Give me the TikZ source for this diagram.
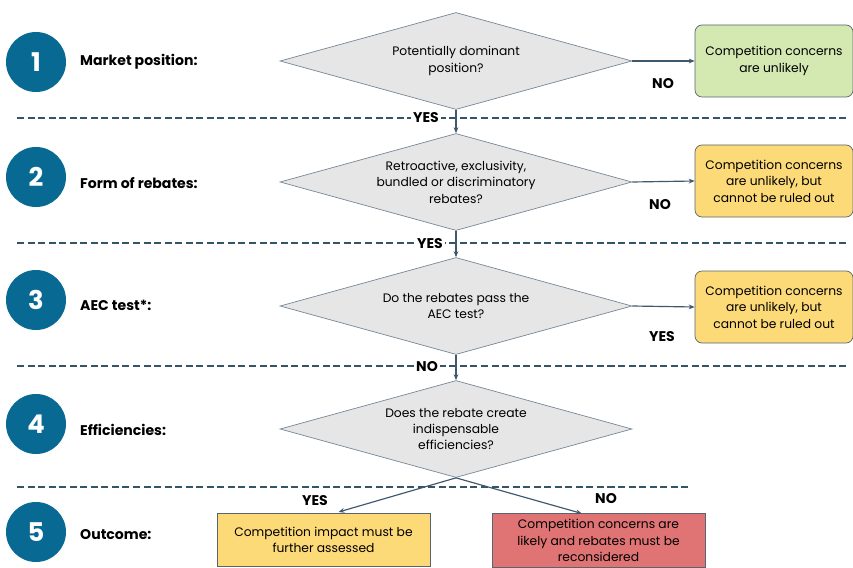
\documentclass[tikz,border=0pt]{standalone}
\usepackage{fontspec}
\setmainfont{Poppins}
\usetikzlibrary{arrows.meta, shapes.geometric, positioning}
\definecolor{stepblue}{RGB}{8, 106, 146}
\definecolor{dashslate}{RGB}{52, 84, 104}
\definecolor{arrowslate}{RGB}{64, 88, 108}
\definecolor{diamfill}{RGB}{230, 230, 230}
\definecolor{diamdraw}{RGB}{120, 135, 150}
\definecolor{boxdraw}{RGB}{90, 100, 110}
\definecolor{okgreen}{RGB}{212, 232, 178}
\definecolor{warnyellow}{RGB}{253, 218, 120}
\definecolor{alertred}{RGB}{224, 115, 115}

\begin{document}
\begin{tikzpicture}[x=0.03cm, y=-0.03cm,
    numcirc/.style={circle, fill=stepblue, minimum size=1.8cm, inner sep=0pt,
      text=white, font=\fontsize{22}{24}\selectfont\bfseries},
    steplabel/.style={anchor=west, inner sep=0pt, font=\fontsize{12}{14}\selectfont\bfseries},
    question/.style={diamond, aspect=3.63, draw=diamdraw, fill=diamfill, line width=0.6pt,
      minimum width=10.56cm, minimum height=2.91cm, inner sep=0pt, align=center,
      font=\fontsize{10.5}{14}\selectfont},
    verdict/.style={draw=boxdraw, line width=0.6pt, rounded corners=6pt,
      minimum width=4.74cm, minimum height=2.16cm, inner sep=0pt, align=center,
      font=\fontsize{10.5}{14}\selectfont},
    outcome/.style={draw=boxdraw, line width=0.6pt, minimum width=6.39cm,
      minimum height=1.6cm, inner sep=0pt, align=center, font=\fontsize{10.5}{14}\selectfont},
    answer/.style={inner sep=1.5pt, font=\fontsize{12}{14}\selectfont\bfseries},
    flow/.style={draw=arrowslate, line width=1pt, -{Stealth[length=5pt, width=4pt]}},
    divider/.style={draw=dashslate, line width=1.6pt, dash pattern=on 6pt off 3pt}]
  \useasboundingbox (0,0) rectangle (853,567);

  % Step dividers
  \foreach \y/\xe in {118/848, 243/848, 366/848, 487/688}
    \draw[divider] (17,\y) -- (\xe,\y);

  % Step numbers and titles
  \foreach \i/\y in {1/62, 2/177, 3/300, 4/424, 5/532}
    \node[numcirc] (num\i) at (36,\y) {\i};
  \node[steplabel] (title1) at (80,62) {Market position:};
  \node[steplabel] (title2) at (80,183) {Form of rebates:};
  \node[steplabel] (title3) at (80,305) {AEC test*:};
  \node[steplabel] (title4) at (80,430) {Efficiencies:};
  \node[steplabel] (title5) at (80,535) {Outcome:};

  % Questions
  \node[question] (dominant) at (456,61) {Potentially dominant\\position?};
  \node[question] (form) at (456,182) {Retroactive, exclusivity,\\bundled or discriminatory\\rebates?};
  \node[question] (aec) at (456,306) {Do the rebates pass the\\AEC test?};
  \node[question] (effic) at (456,429) {Does the rebate create\\indispensable\\efficiencies?};

  % Verdicts on the right
  \node[verdict, fill=okgreen] (unlikely) at (774,61) {Competition concerns\\are unlikely};
  \node[verdict, fill=warnyellow] (notruled) at (774,181) {Competition concerns\\are unlikely, but\\cannot be ruled out};
  \node[verdict, fill=warnyellow] (aecpass) at (774,307) {Competition concerns\\are unlikely, but\\cannot be ruled out};

  % Outcomes
  \node[outcome, fill=warnyellow] (assess) at (323.5,540) {Competition impact must be\\further assessed};
  \node[outcome, fill=alertred] (reconsider) at (598.5,540.5) {Competition concerns are\\likely and rebates must be\\reconsidered};

  % Flow
  \draw[flow] (dominant.south) -- (form.north);
  \draw[flow] (form.south) -- (aec.north);
  \draw[flow] (aec.south) -- (effic.north);
  \draw[flow] (dominant.east) -- (unlikely.west);
  \draw[flow] (form.east) -- (notruled.west);
  \draw[flow] (aec.east) -- (aecpass.west);
  \draw[flow, shorten >=3pt] (effic.south) -- ([xshift=0.35cm]assess.north);
  \draw[flow] (effic.south) -- ([xshift=-0.5cm]reconsider.north);

  % Answers
  \node[answer, fill=white] (yes1) at (426,118) {YES};
  \node[answer, fill=white] (yes2) at (430,244) {YES};
  \node[answer, fill=white] (no3) at (427,367) {NO};
  \node[answer] (no1) at (663,84) {NO};
  \node[answer] (no2) at (660,205) {NO};
  \node[answer] (yes3) at (662,337) {YES};
  \node[answer] (yes4) at (315,501) {YES};
  \node[answer] (no4) at (606,499) {NO};
\end{tikzpicture}
\end{document}
